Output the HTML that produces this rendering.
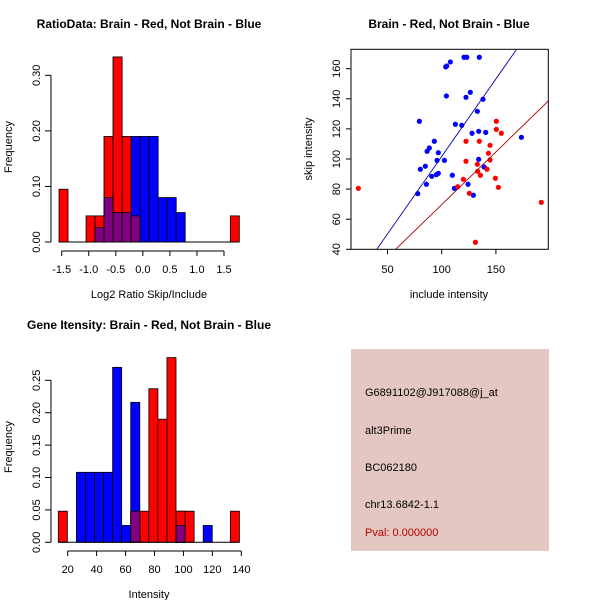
<!DOCTYPE html>
<html><head><meta charset="utf-8"><style>
body{margin:0;background:#fff;}
svg{display:block;font-family:"Liberation Sans",sans-serif;}
</style></head><body>
<svg id="c" width="600" height="600" viewBox="0 0 600 600">
<rect x="351" y="349" width="198" height="202" fill="#e5c7c1"/>
<text x="365" y="396" font-size="11">G6891102@J917088@j_at</text>
<text x="365" y="434" font-size="11">alt3Prime</text>
<text x="365" y="471" font-size="11">BC062180</text>
<text x="365" y="508" font-size="11">chr13.6842-1.1</text>
<text x="365" y="536" font-size="11" fill="#b00000">Pval: 0.000000</text>
</svg>
<script>
// Ratio histogram
const ratioBinStart=-1.55, ratioBinWidth=1/6;
const ratioRed=[0.095,0,0,0.047,0.047,0.19,0.333,0.19,0.047,0,0,0,0,0,0,0,0,0,0,0.047];
const ratioBlue=[0,0,0,0,0.026,0.08,0.053,0.053,0.19,0.19,0.19,0.08,0.08,0.053,0,0,0,0,0,0];
const ratioXTicks=[-1.5,-1.0,-0.5,0.0,0.5,1.0,1.5];
const ratioXLabels=["-1.5","-1.0","-0.5","0.0","0.5","1.0","1.5"];
const ratioYTicks=[0,0.1,0.2,0.3];
const ratioYLabels=["0.00","0.10","0.20","0.30"];
// Intensity histogram
const intBinStart=13.5, intBinWidth=6.26;
const intRed=[0.048,0,0,0,0,0,0,0,0.048,0.048,0.237,0.19,0.285,0.048,0.048,0,0,0,0,0.048];
const intBlue=[0,0,0.108,0.108,0.108,0.108,0.27,0.026,0.216,0,0,0,0,0.026,0,0,0.026,0,0,0];
const intXTicks=[20,40,60,80,100,120,140];
const intYTicks=[0,0.05,0.1,0.15,0.2,0.25];
const intYLabels=["0.00","0.05","0.10","0.15","0.20","0.25"];
// Scatter
const blueX=[79.4,80.3,84.9,85.9,86.5,88.6,90.8,93.2,95.7,95.1,96.9,96.9,102.5,103.7,104.6,108.0,104.3,109.8,111.7,112.6,118.5,120.6,123.1,122.4,126.4,124.3,128.0,129.2,132.9,134.1,134.1,134.7,138.1,139.1,140.6,173.5,77.9];
const blueY=[125.1,93.2,95.2,83.2,105.1,107.3,88.5,111.8,99.1,89.6,104.2,90.5,99.1,161.2,161.8,164.5,141.9,89.2,80.5,123.1,122.4,167.6,167.6,141.0,144.3,83.2,117.1,75.9,131.7,118.4,99.8,167.6,139.7,94.7,117.7,114.4,77.0];
const redX=[23.1,114.8,120.0,122.4,122.4,125.5,131.1,132.9,133.2,134.7,135.7,141.8,143.1,144.6,144.6,149.5,150.4,150.4,152.3,155.0,191.9];
const redY=[80.5,81.6,86.5,111.8,98.5,77.2,44.7,96.5,91.8,111.8,89.2,93.2,103.8,99.4,109.1,87.2,125.1,119.7,81.2,117.1,71.2];
const blueFit=[-1.3,1.03];
const redFit=[-0.3,0.70];
const scXTicks=[50,100,150];
const scYTicks=[40,60,80,100,120,140,160];

const svg=document.getElementById('c');
const NS='http://www.w3.org/2000/svg';
function mk(tag,attrs,name,parent){const e=document.createElementNS(NS,tag);for(const k in attrs)e.setAttribute(k,attrs[k]);


(parent||svg).appendChild(e);return e;}
function txt(x,y,s,name,opts){const t=mk('text',Object.assign({x:x,y:y,'font-size':11,'text-anchor':'middle'},opts||{}),name);t.textContent=s;return t;}

function histogram(prefix,red,blue,bs,bw,sx,sy,y0){
  for(let i=0;i<red.length;i++){
    const x0=sx(bs+i*bw),x1=sx(bs+(i+1)*bw);
    if(red[i]>0) mk('rect',{x:x0,y:sy(red[i]),width:x1-x0,height:y0-sy(red[i]),fill:'#ff0000',stroke:'#000','stroke-width':0.8},prefix+'-red-bar');
  }
  for(let i=0;i<blue.length;i++){
    const x0=sx(bs+i*bw),x1=sx(bs+(i+1)*bw);
    if(blue[i]>0) mk('rect',{x:x0,y:sy(blue[i]),width:x1-x0,height:y0-sy(blue[i]),fill:'#0000ff',stroke:'#000','stroke-width':0.8},prefix+'-blue-bar');
    const m=Math.min(red[i],blue[i]);
    if(m>0){
      if(red[i]>blue[i]) mk('rect',{x:x0,y:sy(red[i]),width:x1-x0,height:y0-sy(red[i]),fill:'#ff0000',stroke:'#000','stroke-width':0.8},prefix+'-red-bar');
      mk('rect',{x:x0,y:sy(m),width:x1-x0,height:y0-sy(m),fill:'#800080',stroke:'#000','stroke-width':0.8},prefix+'-overlap-bar');
    }
  }
}

// Panel 1
(function(){
  const sx=v=>61.7+(v+1.5)*54.1, sy=v=>242-v*555.6, y0=242;
  histogram('ratio',ratioRed,ratioBlue,ratioBinStart,ratioBinWidth,sx,sy,y0);
  mk('line',{x1:sx(ratioBinStart),x2:sx(ratioBinStart+20*ratioBinWidth),y1:y0,y2:y0,stroke:'#000'},'ratio-baseline');
  mk('line',{x1:51,x2:51,y1:sy(0),y2:sy(0.3),stroke:'#000'},'ratio-y-axis');
  ratioYTicks.forEach((v,i)=>{mk('line',{x1:45,x2:51,y1:sy(v),y2:sy(v),stroke:'#000'},'ratio-y-tick');
    txt(40,sy(v),ratioYLabels[i],'ratio-y-tick-label',{transform:`rotate(-90 40 ${sy(v)})`});});
  mk('line',{x1:sx(-1.5),x2:sx(1.5),y1:251,y2:251,stroke:'#000'},'ratio-x-axis');
  ratioXTicks.forEach((v,i)=>{mk('line',{x1:sx(v),x2:sx(v),y1:251,y2:256,stroke:'#000'},'ratio-x-tick');
    txt(sx(v),273,ratioXLabels[i],'ratio-x-tick-label');});
  txt(149,298,'Log2 Ratio Skip/Include','ratio-x-axis-title');
  txt(12,147,'Frequency','ratio-y-axis-title',{transform:'rotate(-90 12 147)'});
  txt(149,28,'RatioData: Brain - Red, Not Brain - Blue','ratio-title',{'font-weight':'bold','font-size':12});
})();

// Panel 3
(function(){
  const sx=v=>67.7+(v-20)*28.93/20, sy=v=>542.3-v*648, y0=542.3;
  histogram('intensity',intRed,intBlue,intBinStart,intBinWidth,sx,sy,y0);
  mk('line',{x1:sx(intBinStart),x2:sx(intBinStart+20*intBinWidth),y1:y0,y2:y0,stroke:'#000'},'intensity-baseline');
  mk('line',{x1:51,x2:51,y1:sy(0),y2:sy(0.25),stroke:'#000'},'intensity-y-axis');
  intYTicks.forEach((v,i)=>{mk('line',{x1:45,x2:51,y1:sy(v),y2:sy(v),stroke:'#000'},'intensity-y-tick');
    txt(40,sy(v),intYLabels[i],'intensity-y-tick-label',{transform:`rotate(-90 40 ${sy(v)})`});});
  mk('line',{x1:sx(20),x2:sx(140),y1:551,y2:551,stroke:'#000'},'intensity-x-axis');
  intXTicks.forEach(v=>{mk('line',{x1:sx(v),x2:sx(v),y1:551,y2:556,stroke:'#000'},'intensity-x-tick');
    txt(sx(v),573,String(v),'intensity-x-tick-label');});
  txt(149,598,'Intensity','intensity-x-axis-title');
  txt(12,447,'Frequency','intensity-y-axis-title',{transform:'rotate(-90 12 447)'});
  txt(149,329,'Gene Itensity: Brain - Red, Not Brain - Blue','intensity-title',{'font-weight':'bold','font-size':12});
})();

// Panel 2 scatter
(function(){
  const L=351,R=548.3,T=49.3,B=249.3;
  const sx=v=>441.7+(v-100)*54.2/50, sy=v=>249.3-(v-40)*30.1/20;
  const inv=px=>100+(px-441.7)*50/54.2;
  const defs=mk('defs',{},'defs');
  const cp=mk('clipPath',{id:'clip'},'plot-clip',defs);
  mk('rect',{x:L,y:T,width:R-L,height:B-T},'clip-rect',cp);
  const g=mk('g',{'clip-path':'url(#clip)'},'scatter-plot-area');
  blueX.forEach((x,i)=>mk('circle',{cx:sx(x),cy:sy(blueY[i]),r:2.6,fill:'#0000ff'},'blue-point',g));
  redX.forEach((x,i)=>mk('circle',{cx:sx(x),cy:sy(redY[i]),r:2.6,fill:'#ff0000'},'red-point',g));
  const xa=inv(L),xb=inv(R);
  mk('line',{x1:L,x2:R,y1:sy(blueFit[0]+blueFit[1]*xa),y2:sy(blueFit[0]+blueFit[1]*xb),stroke:'#0000aa','stroke-width':0.9},'blue-fit-line',g);
  mk('line',{x1:L,x2:R,y1:sy(redFit[0]+redFit[1]*xa),y2:sy(redFit[0]+redFit[1]*xb),stroke:'#aa0000','stroke-width':0.9},'red-fit-line',g);
  mk('rect',{x:L,y:T,width:R-L,height:B-T,fill:'none',stroke:'#000'},'scatter-frame');
  scXTicks.forEach(v=>{mk('line',{x1:sx(v),x2:sx(v),y1:B,y2:B+5,stroke:'#000'},'scatter-x-tick');
    txt(sx(v),273,String(v),'scatter-x-tick-label');});
  scYTicks.forEach(v=>{mk('line',{x1:L-5,x2:L,y1:sy(v),y2:sy(v),stroke:'#000'},'scatter-y-tick');
    txt(340,sy(v),String(v),'scatter-y-tick-label',{transform:`rotate(-90 340 ${sy(v)})`});});
  txt(449,298,'include intensity','scatter-x-axis-title');
  txt(312,149,'skip intensity','scatter-y-axis-title',{transform:'rotate(-90 312 149)'});
  txt(449,28,'Brain - Red, Not Brain - Blue','scatter-title',{'font-weight':'bold','font-size':12});
})();
</script>
</body></html>
